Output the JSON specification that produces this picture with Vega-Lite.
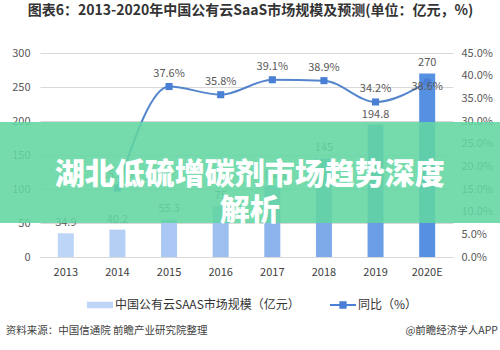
{
  "$schema": "https://vega.github.io/schema/vega-lite/v6.json",
  "width": 413,
  "height": 204,
  "autosize": "none",
  "padding": {"left": 40, "top": 53, "right": 47, "bottom": 93},
  "background": "white",
  "config": {"view": {"stroke": null}, "font": "Noto Sans CJK SC"},
  "title": {
    "text": "图表6：2013-2020年中国公有云SaaS市场规模及预测(单位：亿元，%)",
    "fontSize": 14,
    "fontWeight": "bold",
    "color": "#333333",
    "anchor": "middle",
    "offset": 29,
    "dx": 4
  },
  "datasets": {
    "main": [
      {"year": "2013", "value": 34.9, "pct": null},
      {"year": "2014", "value": 40.2, "pct": 0.152},
      {"year": "2015", "value": 55.3, "pct": 0.376},
      {"year": "2016", "value": 75, "pct": 0.358},
      {"year": "2017", "value": 104.5, "pct": 0.391},
      {"year": "2018", "value": 145, "pct": 0.389},
      {"year": "2019", "value": 194.8, "pct": 0.342},
      {"year": "2020E", "value": 270, "pct": 0.386}
    ]
  },
  "resolve": {"scale": {"x": "independent", "y": "independent", "color": "independent", "shape": "independent", "fill": "independent"}},
  "layer": [
    {
      "data": {"name": "main"},
      "mark": {"type": "bar", "size": 16},
      "encoding": {
        "x": {"field": "year", "type": "nominal", "sort": null, "scale": {"paddingInner": 0, "paddingOuter": 0},
          "axis": {"title": null, "labelAngle": 0, "labelFontSize": 11, "labelColor": "#404040", "domainColor": "#d9d9d9", "ticks": false, "labelPadding": 9}},
        "y": {"field": "value", "type": "quantitative", "scale": {"domain": [0, 300]},
          "axis": {"title": null, "values": [0, 50, 100, 150, 200, 250, 300], "grid": true, "gridColor": "#d9d9d9", "domain": false, "ticks": false, "labelColor": "#595959", "labelFontSize": 11, "labelPadding": 10}},
        "fill": {"field": "year", "type": "nominal", "sort": null, "legend": null,
          "scale": {"domain": ["2013", "2014", "2015", "2016", "2017", "2018", "2019", "2020E"],
            "range": ["#bdd5f6", "#b5cff4", "#a9c7f2", "#9dbff0", "#8db4ec", "#7eaaea", "#6a9de6", "#5590e2"]}}
      }
    },
    {
      "data": {"name": "main"},
      "mark": {"type": "text", "baseline": "bottom", "dy": -5, "fontSize": 11, "color": "#595959"},
      "encoding": {
        "x": {"field": "year", "type": "nominal", "sort": null, "scale": {"paddingInner": 0, "paddingOuter": 0}, "axis": null},
        "y": {"field": "value", "type": "quantitative", "scale": {"domain": [0, 300]}, "axis": null},
        "text": {"field": "value", "type": "quantitative"}
      }
    },
    {
      "data": {"name": "main"},
      "transform": [{"filter": "datum.pct != null"}],
      "mark": {"type": "line", "interpolate": "monotone", "color": "#5585cc", "strokeWidth": 2},
      "encoding": {
        "x": {"field": "year", "type": "nominal", "sort": null, "scale": {"domain": ["2013", "2014", "2015", "2016", "2017", "2018", "2019", "2020E"], "paddingInner": 0, "paddingOuter": 0}, "axis": null},
        "y": {"field": "pct", "type": "quantitative", "scale": {"domain": [0, 0.45]},
          "axis": {"orient": "right", "title": null, "format": ".1%", "values": [0, 0.05, 0.1, 0.15, 0.2, 0.25, 0.3, 0.35, 0.4, 0.45], "grid": false, "domain": false, "ticks": false, "labelColor": "#595959", "labelFontSize": 11, "labelPadding": 8}}
      }
    },
    {
      "data": {"name": "main"},
      "transform": [{"filter": "datum.pct != null"}],
      "mark": {"type": "point", "shape": "square", "filled": true, "size": 50, "color": "#4a7fd6", "opacity": 1},
      "encoding": {
        "x": {"field": "year", "type": "nominal", "sort": null, "scale": {"domain": ["2013", "2014", "2015", "2016", "2017", "2018", "2019", "2020E"], "paddingInner": 0, "paddingOuter": 0}, "axis": null},
        "y": {"field": "pct", "type": "quantitative", "scale": {"domain": [0, 0.45]}, "axis": null}
      }
    },
    {
      "data": {"name": "main"},
      "transform": [{"filter": "datum.pct != null && datum.year != '2020E'"}],
      "mark": {"type": "text", "baseline": "bottom", "dy": -8, "fontSize": 11, "color": "#595959"},
      "encoding": {
        "x": {"field": "year", "type": "nominal", "sort": null, "scale": {"domain": ["2013", "2014", "2015", "2016", "2017", "2018", "2019", "2020E"], "paddingInner": 0, "paddingOuter": 0}, "axis": null},
        "y": {"field": "pct", "type": "quantitative", "scale": {"domain": [0, 0.45]}, "axis": null},
        "text": {"field": "pct", "type": "quantitative", "format": ".1%"}
      }
    },
    {
      "data": {"name": "main"},
      "transform": [{"filter": "datum.year == '2020E'"}],
      "mark": {"type": "text", "baseline": "middle", "dy": 5, "fontSize": 11, "color": "#595959"},
      "encoding": {
        "x": {"field": "year", "type": "nominal", "sort": null, "scale": {"domain": ["2013", "2014", "2015", "2016", "2017", "2018", "2019", "2020E"], "paddingInner": 0, "paddingOuter": 0}, "axis": null},
        "y": {"field": "pct", "type": "quantitative", "scale": {"domain": [0, 0.45]}, "axis": null},
        "text": {"field": "pct", "type": "quantitative", "format": ".1%"}
      }
    },
    {
      "data": {"values": [{"series": "中国公有云SAAS市场规模（亿元）"}, {"series": "同比（%）"}]},
      "mark": {"type": "point", "filled": true, "opacity": 0},
      "encoding": {
        "color": {"field": "series", "type": "nominal", "sort": null,
          "scale": {"domain": ["中国公有云SAAS市场规模（亿元）", "同比（%）"], "range": ["#bdd5f6", "#4a7fd6"]},
          "legend": {"orient": "none", "legendX": 47, "legendY": 239, "direction": "horizontal", "title": null,
            "symbolSize": 676, "symbolStrokeWidth": 0, "labelFontSize": 12, "labelColor": "#333333", "labelLimit": 400, "columnPadding": 30, "labelOffset": 2,
            "encode": {"symbols": {"update": {"opacity": {"value": 1}, "fillOpacity": {"value": 1}}}}}},
        "shape": {"field": "series", "type": "nominal", "sort": null,
          "scale": {"domain": ["中国公有云SAAS市场规模（亿元）", "同比（%）"],
            "range": ["M-1,-0.25H1V0.25H-1Z", "M-1,-0.07H-0.28V-0.28H0.28V-0.07H1V0.07H0.28V0.28H-0.28V0.07H-1Z"]}}
      }
    },
    {
      "data": {"values": [{"item": "banner"}]},
      "mark": {"type": "rect", "color": "#62d6a2", "opacity": 0.88},
      "encoding": {
        "x": {"datum": -0.1, "type": "quantitative", "scale": {"domain": [0, 1]}, "axis": null},
        "x2": {"datum": 1.12},
        "y": {"datum": 50, "type": "quantitative", "scale": {"domain": [0, 300]}, "axis": null},
        "y2": {"datum": 198.5}
      }
    },
    {
      "data": {"values": [{"item": "banner"}]},
      "mark": {"type": "text", "text": ["湖北低硫增碳剂市场趋势深度", "解析"], "fontSize": 30, "fontWeight": 900, "color": "white", "align": "center", "baseline": "middle", "lineHeight": 36},
      "encoding": {
        "x": {"datum": 0.508, "type": "quantitative", "scale": {"domain": [0, 1]}, "axis": null},
        "y": {"datum": 120.6, "type": "quantitative", "scale": {"domain": [0, 300]}, "axis": null}
      }
    },
    {
      "data": {"values": [{"item": "source"}]},
      "mark": {"type": "text", "text": "资料来源：中国信通院 前瞻产业研究院整理", "fontSize": 10.5, "color": "#404040", "align": "left", "baseline": "middle"},
      "encoding": {
        "x": {"datum": -0.083, "type": "quantitative", "scale": {"domain": [0, 1]}, "axis": null},
        "y": {"datum": -109, "type": "quantitative", "scale": {"domain": [0, 300]}, "axis": null}
      }
    },
    {
      "data": {"values": [{"item": "credit"}]},
      "mark": {"type": "text", "text": "@前瞻经济学人APP", "fontSize": 10.5, "color": "#404040", "align": "right", "baseline": "middle"},
      "encoding": {
        "x": {"datum": 1.109, "type": "quantitative", "scale": {"domain": [0, 1]}, "axis": null},
        "y": {"datum": -109, "type": "quantitative", "scale": {"domain": [0, 300]}, "axis": null}
      }
    }
  ]
}
